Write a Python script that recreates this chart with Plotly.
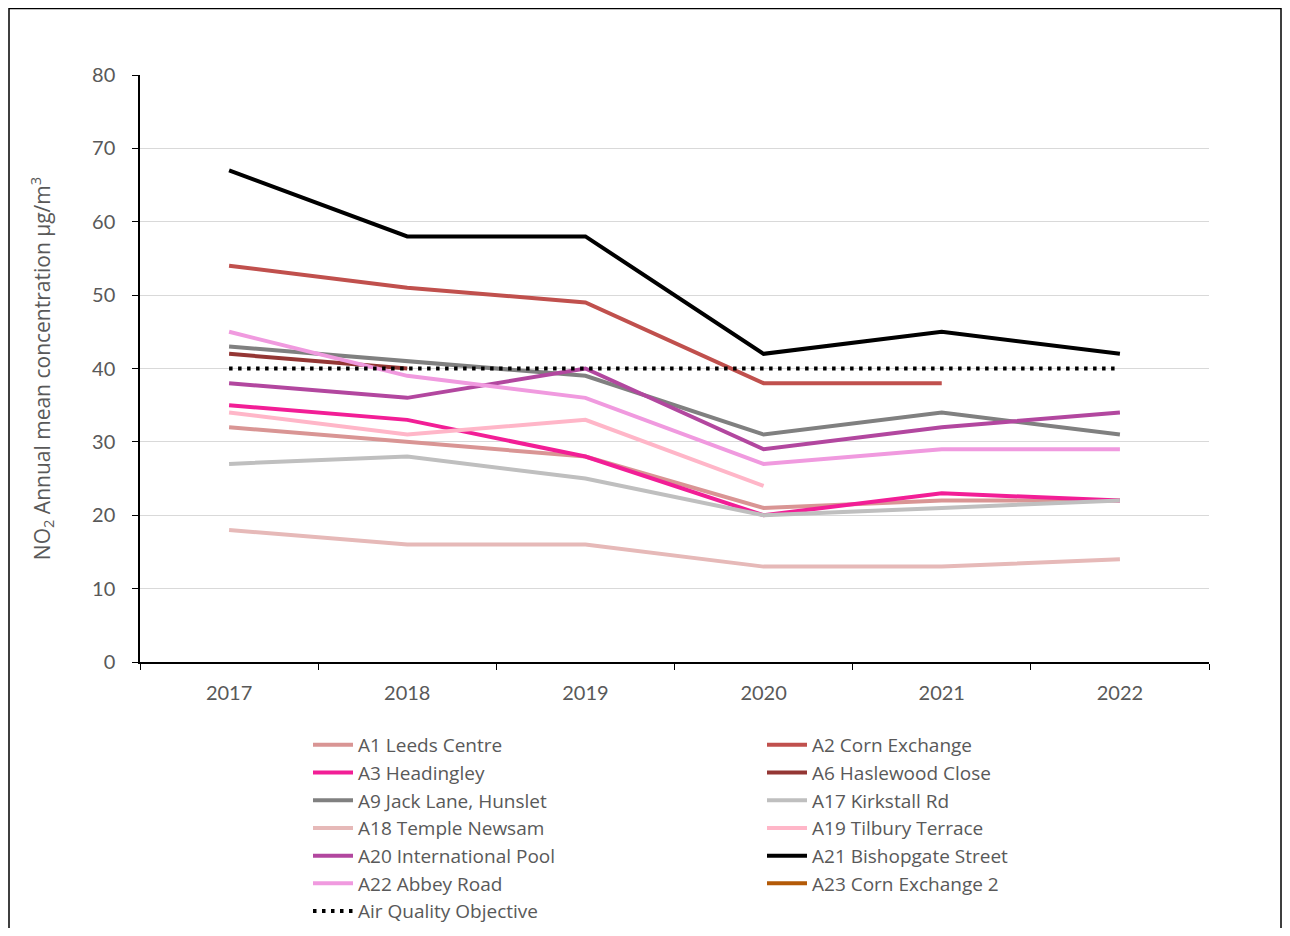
import plotly.graph_objects as go

years = ["2017", "2018", "2019", "2020", "2021", "2022"]

a1_leeds_centre = [32, 30, 28, 21, 22, 22]
a2_corn_exchange = [54, 51, 49, 38, 38, None]
a3_headingley = [35, 33, 28, 20, 23, 22]
a6_haslewood_close = [42, 40, None, None, None, None]
a9_jack_lane = [43, 41, 39, 31, 34, 31]
a17_kirkstall_rd = [27, 28, 25, 20, 21, 22]
a18_temple_newsam = [18, 16, 16, 13, 13, 14]
a19_tilbury_terrace = [34, 31, 33, 24, None, None]
a20_international_pool = [38, 36, 40, 29, 32, 34]
a21_bishopgate_street = [67, 58, 58, 42, 45, 42]
a22_abbey_road = [45, 39, 36, 27, 29, 29]
a23_corn_exchange_2 = [None, None, None, None, None, None]
air_quality_objective = [40, 40, 40, 40, 40, 40]

# name, values, colour, which legend column
series = [
    ("A1 Leeds Centre", a1_leeds_centre, "#D99594", "legend"),
    ("A2 Corn Exchange", a2_corn_exchange, "#C0504D", "legend2"),
    ("A3 Headingley", a3_headingley, "#F21E96", "legend"),
    ("A6 Haslewood Close", a6_haslewood_close, "#943634", "legend2"),
    ("A9 Jack Lane, Hunslet", a9_jack_lane, "#808080", "legend"),
    ("A17 Kirkstall Rd", a17_kirkstall_rd, "#BFBFBF", "legend2"),
    ("A18 Temple Newsam", a18_temple_newsam, "#E6B9B8", "legend"),
    ("A19 Tilbury Terrace", a19_tilbury_terrace, "#FFB6C8", "legend2"),
    ("A20 International Pool", a20_international_pool, "#B2479F", "legend"),
    ("A21 Bishopgate Street", a21_bishopgate_street, "#000000", "legend2"),
    ("A22 Abbey Road", a22_abbey_road, "#F09ADF", "legend"),
    ("A23 Corn Exchange 2", a23_corn_exchange_2, "#B35A07", "legend2"),
]

FONT = "Lato"
LEG_FONT = "Open Sans"
GREY = "#595959"

fig = go.Figure()

for name, vals, colour, leg in series:
    fig.add_trace(go.Scatter(
        x=years, y=vals, name=name, mode="lines",
        line=dict(color=colour, width=4),
        legend=leg,
    ))

# objective line (dotted)
fig.add_trace(go.Scatter(
    x=years, y=air_quality_objective, name="Air Quality Objective",
    mode="lines", line=dict(color="black", width=4, dash="3.5px,5.5px"),
    legend="legend",
))

# page has an 8px body margin, so the figure is kept 16px smaller than the window
W, H = 1274, 920
L, R, T, B = 132, 73, 67, 266
pw, ph = W - L - R, H - T - B

legend_style = dict(
    orientation="v", yanchor="top", xanchor="left",
    font=dict(size=19, color=GREY, family=LEG_FONT), tracegroupgap=0,
    itemwidth=40, bgcolor="rgba(0,0,0,0)",
)

fig.update_layout(
    width=W, height=H,
    margin=dict(l=L, r=R, t=T, b=B, autoexpand=False),
    paper_bgcolor="white", plot_bgcolor="white",
    font=dict(family=FONT, color=GREY, size=20),
    showlegend=True,
    legend=dict(x=(300 - L) / pw, y=(654 - 718) / ph, **legend_style),
    legend2=dict(x=(754 - L) / pw, y=(654 - 718) / ph, **legend_style),
    xaxis=dict(
        type="category", showgrid=False,
        showline=True, linecolor="black", linewidth=1.5,
        ticks="outside", tickson="boundaries", ticklen=6,
        tickcolor="black", tickfont=dict(size=20, color=GREY),
        ticklabelstandoff=12,
        range=[-0.5, 5.5],
    ),
    yaxis=dict(
        range=[0, 80], dtick=10,
        showgrid=True, gridcolor="#D9D9D9", gridwidth=1,
        showline=True, linecolor="black", linewidth=1.5,
        ticks="outside", ticklen=6, tickcolor="black",
        tickfont=dict(size=20, color=GREY),
        ticklabelstandoff=13,
        zeroline=False,
        title=dict(text="NO<sub>2</sub> Annual mean concentration µg/m<sup>3</sup>",
                   font=dict(size=21, color=GREY, family=LEG_FONT), standoff=36),
    ),
    shapes=[dict(
        type="rect", xref="paper", yref="paper",
        x0=(1 - L) / pw, x1=(W - 1 - L) / pw,
        y0=(654 - 960) / ph, y1=(654 - 0.5) / ph,
        line=dict(color="black", width=1.5), fillcolor="rgba(0,0,0,0)",
        layer="below",
    )],
)

fig.write_html("out.html")
